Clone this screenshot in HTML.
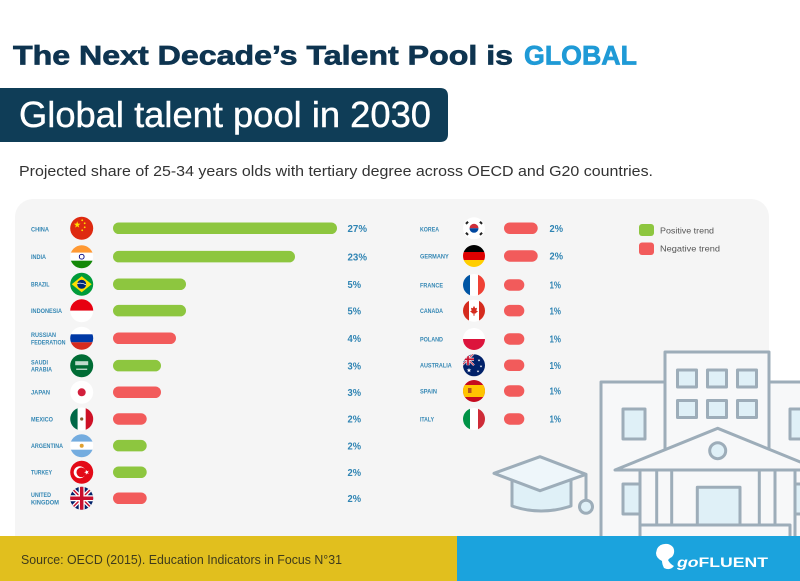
<!DOCTYPE html>
<html><head><meta charset="utf-8"><style>
html,body{margin:0;padding:0;background:#fff;}
svg{display:block;}
</style></head><body>
<svg width="800" height="581" viewBox="0 0 800 581" xmlns="http://www.w3.org/2000/svg" font-family="Liberation Sans, sans-serif">
<defs>
<clipPath id="cl"><circle cx="0" cy="0" r="11.5"/></clipPath>
<clipPath id="cr"><circle cx="0" cy="0" r="11"/></clipPath>
<polygon id="star" points="0,-3.5 0.82,-1.13 3.33,-1.08 1.33,0.43 2.06,2.83 0,1.4 -2.06,2.83 -1.33,0.43 -3.33,-1.08 -0.82,-1.13"/>
<g id="uj">
<rect x="-12" y="-12" width="24" height="24" fill="#012169"/>
<path d="M-12,-12 L12,12 M12,-12 L-12,12" stroke="#fff" stroke-width="4"/>
<path d="M-12,-12 L12,12 M12,-12 L-12,12" stroke="#c8102e" stroke-width="1.5"/>
<path d="M0,-12 V12 M-12,0 H12" stroke="#fff" stroke-width="6"/>
<path d="M0,-12 V12 M-12,0 H12" stroke="#c8102e" stroke-width="3.5"/>
</g>
</defs>
<rect width="800" height="581" fill="#fff"/>

<!-- Title -->
<text x="13" y="64.5" font-size="27" font-weight="bold" fill="#0e3450" stroke="#0e3450" stroke-width="0.7" textLength="500" lengthAdjust="spacingAndGlyphs">The Next Decade’s Talent Pool is</text>
<text x="524" y="64.5" font-size="27" font-weight="bold" fill="#1f9ad6" stroke="#1f9ad6" stroke-width="0.7" textLength="113" lengthAdjust="spacingAndGlyphs">GLOBAL</text>

<!-- Banner -->
<path d="M0,88 H440 Q448,88 448,96 V134 Q448,142 440,142 H0 Z" fill="#0f3d57"/>
<text x="19" y="127" font-size="36" fill="#fff" stroke="#fff" stroke-width="0.4" textLength="412" lengthAdjust="spacingAndGlyphs">Global talent pool in 2030</text>

<!-- Subtitle -->
<text x="19" y="176" font-size="14.5" fill="#333" textLength="634" lengthAdjust="spacingAndGlyphs">Projected share of 25-34 years olds with tertiary degree across OECD and G20 countries.</text>

<!-- Panel -->
<rect x="15" y="199" width="754" height="360" rx="18" fill="#f5f5f5"/>

<!-- Building illustration -->
<g stroke="#9dadb9" stroke-width="3" stroke-linejoin="round" fill="#f7f8f9">
<rect x="601" y="382" width="64" height="170"/>
<rect x="769" y="382" width="60" height="170"/>
<rect x="665" y="352" width="104" height="200"/>
<g fill="#dff0f7">
<rect x="623" y="409" width="22" height="30"/>
<rect x="623" y="484" width="22" height="30"/>
<rect x="790" y="409" width="22" height="30"/>
<rect x="790" y="484" width="22" height="30"/>
<rect x="677.5" y="370" width="19" height="17"/>
<rect x="707.5" y="370" width="19" height="17"/>
<rect x="737.5" y="370" width="19" height="17"/>
<rect x="677.5" y="400.5" width="19" height="17"/>
<rect x="707.5" y="400.5" width="19" height="17"/>
<rect x="737.5" y="400.5" width="19" height="17"/>
</g>
<rect x="640" y="470" width="155" height="80" fill="#f7f8f9"/>
<polygon points="615,470 717.7,428.3 820,470" fill="#f7f8f9"/>
<circle cx="717.7" cy="450.7" r="8" fill="#dff0f7"/>
<path d="M656.7,470 V525 M671.7,470 V525 M759.3,470 V525 M775,470 V525" fill="none"/>
<rect x="697.3" y="487.3" width="42.7" height="37.7" fill="#dff0f7"/>
<rect x="640" y="525" width="150" height="20" fill="#f7f8f9"/>
<!-- grad cap -->
<path d="M512,478 V506 Q541,516 571,506 V478" fill="#dff0f7"/>
<polygon points="494,473.3 540,456.7 586,474.3 540,490.7" fill="#eef6fa"/>
<path d="M586,474.3 V500" fill="none"/>
<circle cx="586" cy="506.7" r="6.5" fill="#dff0f7"/>
</g>

<!-- Legend -->
<rect x="639" y="224" width="15" height="12" rx="3" fill="#8dc63f"/>
<text x="660" y="233.5" font-size="8.5" fill="#555" textLength="54" lengthAdjust="spacingAndGlyphs">Positive trend</text>
<rect x="639" y="242.5" width="15" height="12.5" rx="3" fill="#f25b5b"/>
<text x="660" y="251.5" font-size="8.5" fill="#555" textLength="60" lengthAdjust="spacingAndGlyphs">Negative trend</text>

<!-- Left column labels -->
<g font-size="6" font-weight="bold" fill="#3487b4">
<text x="31" y="231.3" textLength="18" lengthAdjust="spacingAndGlyphs">CHINA</text>
<text x="31" y="259" textLength="15" lengthAdjust="spacingAndGlyphs">INDIA</text>
<text x="31" y="286.5" textLength="18.5" lengthAdjust="spacingAndGlyphs">BRAZIL</text>
<text x="31" y="313" textLength="31" lengthAdjust="spacingAndGlyphs">INDONESIA</text>
<text x="31" y="337" textLength="25" lengthAdjust="spacingAndGlyphs">RUSSIAN</text>
<text x="31" y="344.5" textLength="34.5" lengthAdjust="spacingAndGlyphs">FEDERATION</text>
<text x="31" y="364.5" textLength="17" lengthAdjust="spacingAndGlyphs">SAUDI</text>
<text x="31" y="371.5" textLength="21" lengthAdjust="spacingAndGlyphs">ARABIA</text>
<text x="31" y="394.5" textLength="19" lengthAdjust="spacingAndGlyphs">JAPAN</text>
<text x="31" y="421.3" textLength="22" lengthAdjust="spacingAndGlyphs">MEXICO</text>
<text x="31" y="448" textLength="32" lengthAdjust="spacingAndGlyphs">ARGENTINA</text>
<text x="31" y="474.6" textLength="21" lengthAdjust="spacingAndGlyphs">TURKEY</text>
<text x="31" y="497" textLength="20" lengthAdjust="spacingAndGlyphs">UNITED</text>
<text x="31" y="504.5" textLength="28" lengthAdjust="spacingAndGlyphs">KINGDOM</text>
</g>
<!-- Right column labels -->
<g font-size="6" font-weight="bold" fill="#3487b4">
<text x="420" y="231.3" textLength="19" lengthAdjust="spacingAndGlyphs">KOREA</text>
<text x="420" y="258.3" textLength="28.7" lengthAdjust="spacingAndGlyphs">GERMANY</text>
<text x="420" y="287.3" textLength="23" lengthAdjust="spacingAndGlyphs">FRANCE</text>
<text x="420" y="313" textLength="23" lengthAdjust="spacingAndGlyphs">CANADA</text>
<text x="420" y="341.3" textLength="23" lengthAdjust="spacingAndGlyphs">POLAND</text>
<text x="420" y="367.6" textLength="31.7" lengthAdjust="spacingAndGlyphs">AUSTRALIA</text>
<text x="420" y="393.3" textLength="17" lengthAdjust="spacingAndGlyphs">SPAIN</text>
<text x="420" y="421.3" textLength="14" lengthAdjust="spacingAndGlyphs">ITALY</text>
</g>

<!-- Bars left -->
<g>
<rect x="113" y="222.5" width="224" height="11.5" rx="5.7" fill="#8dc63f"/>
<rect x="113" y="250.9" width="182" height="11.5" rx="5.7" fill="#8dc63f"/>
<rect x="113" y="278.5" width="73" height="11.5" rx="5.7" fill="#8dc63f"/>
<rect x="113" y="304.9" width="73" height="11.5" rx="5.7" fill="#8dc63f"/>
<rect x="113" y="332.5" width="63" height="11.5" rx="5.7" fill="#f25b5b"/>
<rect x="113" y="359.9" width="48" height="11.5" rx="5.7" fill="#8dc63f"/>
<rect x="113" y="386.5" width="48" height="11.5" rx="5.7" fill="#f25b5b"/>
<rect x="113" y="413.2" width="33.7" height="11.5" rx="5.7" fill="#f25b5b"/>
<rect x="113" y="439.9" width="33.7" height="11.5" rx="5.7" fill="#8dc63f"/>
<rect x="113" y="466.5" width="33.7" height="11.5" rx="5.7" fill="#8dc63f"/>
<rect x="113" y="492.5" width="33.7" height="11.5" rx="5.7" fill="#f25b5b"/>
</g>
<!-- Bars right -->
<g fill="#f25b5b">
<rect x="504" y="222.5" width="33.7" height="11.5" rx="5.7"/>
<rect x="504" y="250.2" width="33.7" height="11.5" rx="5.7"/>
<rect x="504" y="279.2" width="20.3" height="11.5" rx="5.7"/>
<rect x="504" y="304.9" width="20.3" height="11.5" rx="5.7"/>
<rect x="504" y="333.2" width="20.3" height="11.5" rx="5.7"/>
<rect x="504" y="359.5" width="20.3" height="11.5" rx="5.7"/>
<rect x="504" y="385.2" width="20.3" height="11.5" rx="5.7"/>
<rect x="504" y="413.2" width="20.3" height="11.5" rx="5.7"/>
</g>

<!-- Percent labels -->
<g font-size="10" font-weight="bold" fill="#2f84b3">
<text x="347.5" y="231.9" textLength="19.5" lengthAdjust="spacingAndGlyphs">27%</text>
<text x="347.5" y="260.3" textLength="19.5" lengthAdjust="spacingAndGlyphs">23%</text>
<text x="347.5" y="287.9" textLength="13.5" lengthAdjust="spacingAndGlyphs">5%</text>
<text x="347.5" y="314.3" textLength="13.5" lengthAdjust="spacingAndGlyphs">5%</text>
<text x="347.5" y="341.9" textLength="13.5" lengthAdjust="spacingAndGlyphs">4%</text>
<text x="347.5" y="369.3" textLength="13.5" lengthAdjust="spacingAndGlyphs">3%</text>
<text x="347.5" y="395.9" textLength="13.5" lengthAdjust="spacingAndGlyphs">3%</text>
<text x="347.5" y="422.6" textLength="13.5" lengthAdjust="spacingAndGlyphs">2%</text>
<text x="347.5" y="449.3" textLength="13.5" lengthAdjust="spacingAndGlyphs">2%</text>
<text x="347.5" y="475.9" textLength="13.5" lengthAdjust="spacingAndGlyphs">2%</text>
<text x="347.5" y="501.9" textLength="13.5" lengthAdjust="spacingAndGlyphs">2%</text>
<text x="549.5" y="231.9" textLength="13.5" lengthAdjust="spacingAndGlyphs">2%</text>
<text x="549.5" y="259.6" textLength="13.5" lengthAdjust="spacingAndGlyphs">2%</text>
<text x="549.5" y="288.6" textLength="11.5" lengthAdjust="spacingAndGlyphs">1%</text>
<text x="549.5" y="314.3" textLength="11.5" lengthAdjust="spacingAndGlyphs">1%</text>
<text x="549.5" y="342.6" textLength="11.5" lengthAdjust="spacingAndGlyphs">1%</text>
<text x="549.5" y="368.9" textLength="11.5" lengthAdjust="spacingAndGlyphs">1%</text>
<text x="549.5" y="394.6" textLength="11.5" lengthAdjust="spacingAndGlyphs">1%</text>
<text x="549.5" y="422.6" textLength="11.5" lengthAdjust="spacingAndGlyphs">1%</text>
</g>

<!-- Flags left -->
<g transform="translate(81.7,228.3)" clip-path="url(#cl)">
<rect x="-12" y="-12" width="24" height="24" fill="#de2910"/>
<use href="#star" transform="translate(-4.5,-3.5)" fill="#ffde00"/>
<circle cx="0.5" cy="-8" r="0.9" fill="#ffde00"/><circle cx="3" cy="-5" r="0.9" fill="#ffde00"/>
<circle cx="3" cy="-1" r="0.9" fill="#ffde00"/><circle cx="0.5" cy="2" r="0.9" fill="#ffde00"/>
</g>
<g transform="translate(81.7,256.7)" clip-path="url(#cl)">
<rect x="-12" y="-12" width="24" height="8" fill="#ff9933"/>
<rect x="-12" y="-4" width="24" height="8" fill="#fff"/>
<rect x="-12" y="4" width="24" height="8" fill="#138808"/>
<circle r="2.4" fill="none" stroke="#000080" stroke-width="0.9"/>
</g>
<g transform="translate(81.7,284.3)" clip-path="url(#cl)">
<rect x="-12" y="-12" width="24" height="24" fill="#009b3a"/>
<polygon points="-10,0 0,-8 10,0 0,8" fill="#fedf00"/>
<circle r="4.5" fill="#002776"/>
<path d="M-4.4,-0.8 Q0,-2 4.4,0.6" stroke="#fff" stroke-width="0.8" fill="none"/>
</g>
<g transform="translate(81.7,310.7)" clip-path="url(#cl)">
<rect x="-12" y="-12" width="24" height="12" fill="#e70011"/>
<rect x="-12" y="0" width="24" height="12" fill="#fff"/>
</g>
<g transform="translate(81.7,338.3)" clip-path="url(#cl)">
<rect x="-12" y="-12" width="24" height="8" fill="#fff"/>
<rect x="-12" y="-4" width="24" height="8" fill="#0039a6"/>
<rect x="-12" y="4" width="24" height="8" fill="#d52b1e"/>
</g>
<g transform="translate(81.7,365.7)" clip-path="url(#cl)">
<rect x="-12" y="-12" width="24" height="24" fill="#006c35"/>
<rect x="-6.5" y="-4.5" width="13" height="4" fill="#fff" opacity="0.75"/>
<rect x="-5.5" y="3" width="11" height="1" fill="#fff"/>
</g>
<g transform="translate(81.7,392.3)" clip-path="url(#cl)">
<rect x="-12" y="-12" width="24" height="24" fill="#fff"/>
<circle r="4" fill="#d21f3c"/>
</g>
<g transform="translate(81.7,419)" clip-path="url(#cl)">
<rect x="-12" y="-12" width="8" height="24" fill="#006847"/>
<rect x="-4" y="-12" width="8" height="24" fill="#fff"/>
<rect x="4" y="-12" width="8" height="24" fill="#ce1126"/>
<circle r="1.6" fill="#8a5a2b"/>
</g>
<g transform="translate(81.7,445.7)" clip-path="url(#cl)">
<rect x="-12" y="-12" width="24" height="8" fill="#74acdf"/>
<rect x="-12" y="-4" width="24" height="8" fill="#fff"/>
<rect x="-12" y="4" width="24" height="8" fill="#74acdf"/>
<circle r="2" fill="#e0a030"/>
</g>
<g transform="translate(81.7,472.3)" clip-path="url(#cl)">
<rect x="-12" y="-12" width="24" height="24" fill="#e30a17"/>
<circle cx="-2" cy="0" r="6" fill="#fff"/>
<circle cx="-0.4" cy="0" r="4.8" fill="#e30a17"/>
<use href="#star" transform="translate(5,0) rotate(-90) scale(0.75)" fill="#fff"/>
</g>
<g transform="translate(81.7,498.3)" clip-path="url(#cl)">
<use href="#uj"/>
</g>

<!-- Flags right -->
<g transform="translate(474,228.3)" clip-path="url(#cr)">
<rect x="-12" y="-12" width="24" height="24" fill="#fff"/>
<path d="M-4.5,0 A4.5,4.5 0 0 1 4.5,0 Z" fill="#cd2e3a"/>
<path d="M-4.5,0 A4.5,4.5 0 0 0 4.5,0 Z" fill="#0047a0"/>
<g fill="#222">
<rect x="-8.5" y="-6.5" width="3" height="2" transform="rotate(-45 -7 -5.5)"/>
<rect x="5.5" y="-6.5" width="3" height="2" transform="rotate(45 7 -5.5)"/>
<rect x="-8.5" y="4.5" width="3" height="2" transform="rotate(45 -7 5.5)"/>
<rect x="5.5" y="4.5" width="3" height="2" transform="rotate(-45 7 5.5)"/>
</g>
</g>
<g transform="translate(474,256)" clip-path="url(#cr)">
<rect x="-12" y="-12" width="24" height="8" fill="#000"/>
<rect x="-12" y="-4" width="24" height="8" fill="#dd0000"/>
<rect x="-12" y="4" width="24" height="8" fill="#ffce00"/>
</g>
<g transform="translate(474,285)" clip-path="url(#cr)">
<rect x="-12" y="-12" width="8" height="24" fill="#0055a4"/>
<rect x="-4" y="-12" width="8" height="24" fill="#fff"/>
<rect x="4" y="-12" width="8" height="24" fill="#ef4135"/>
</g>
<g transform="translate(474,310.7)" clip-path="url(#cr)">
<rect x="-12" y="-12" width="24" height="24" fill="#fff"/>
<rect x="-12" y="-12" width="7" height="24" fill="#d52b1e"/>
<rect x="5" y="-12" width="7" height="24" fill="#d52b1e"/>
<polygon points="0,-5 1.2,-2.5 3,-3 2.4,0 4,0.5 1,3 0.5,2.5 0.5,5 -0.5,5 -0.5,2.5 -1,3 -4,0.5 -2.4,0 -3,-3 -1.2,-2.5" fill="#d52b1e"/>
</g>
<g transform="translate(474,339)" clip-path="url(#cr)">
<rect x="-12" y="-12" width="24" height="12" fill="#fff"/>
<rect x="-12" y="0" width="24" height="12" fill="#dc143c"/>
</g>
<g transform="translate(474,365.3)" clip-path="url(#cr)">
<rect x="-12" y="-12" width="24" height="24" fill="#012169"/>
<g transform="translate(-6,-6) scale(0.5)"><use href="#uj"/></g>
<use href="#star" transform="translate(-5,5) scale(0.7)" fill="#fff"/>
<use href="#star" transform="translate(5,-5) scale(0.4)" fill="#fff"/>
<use href="#star" transform="translate(7,1) scale(0.4)" fill="#fff"/>
<use href="#star" transform="translate(4,6) scale(0.4)" fill="#fff"/>
</g>
<g transform="translate(474,391)" clip-path="url(#cr)">
<rect x="-12" y="-12" width="24" height="24" fill="#c60b1e"/>
<rect x="-12" y="-6" width="24" height="12" fill="#ffc400"/>
<rect x="-6" y="-3" width="3.5" height="5" fill="#b5551b"/>
</g>
<g transform="translate(474,419)" clip-path="url(#cr)">
<rect x="-12" y="-12" width="8" height="24" fill="#009246"/>
<rect x="-4" y="-12" width="8" height="24" fill="#fff"/>
<rect x="4" y="-12" width="8" height="24" fill="#ce2b37"/>
</g>

<!-- Footer -->
<rect x="0" y="536" width="457" height="45" fill="#e1bf1e"/>
<rect x="457" y="536" width="343" height="45" fill="#1ba3dd"/>
<text x="21" y="564" font-size="13" fill="#3f3b1c" textLength="321" lengthAdjust="spacingAndGlyphs">Source: OECD (2015). Education Indicators in Focus N°31</text>
<path d="M657,549 Q660,543 668,544 Q675,546 674,553 Q673,557 670,558 L668,560 Q670,564 674,566 Q670,571 664,568 Q662,564 662,561 Q656,558 656,553 Z" fill="#fff"/>
<text x="677" y="567" font-size="13.5" font-weight="bold" fill="#fff" textLength="91" lengthAdjust="spacingAndGlyphs"><tspan font-style="italic">go</tspan>FLUENT</text>
</svg>
</body></html>
